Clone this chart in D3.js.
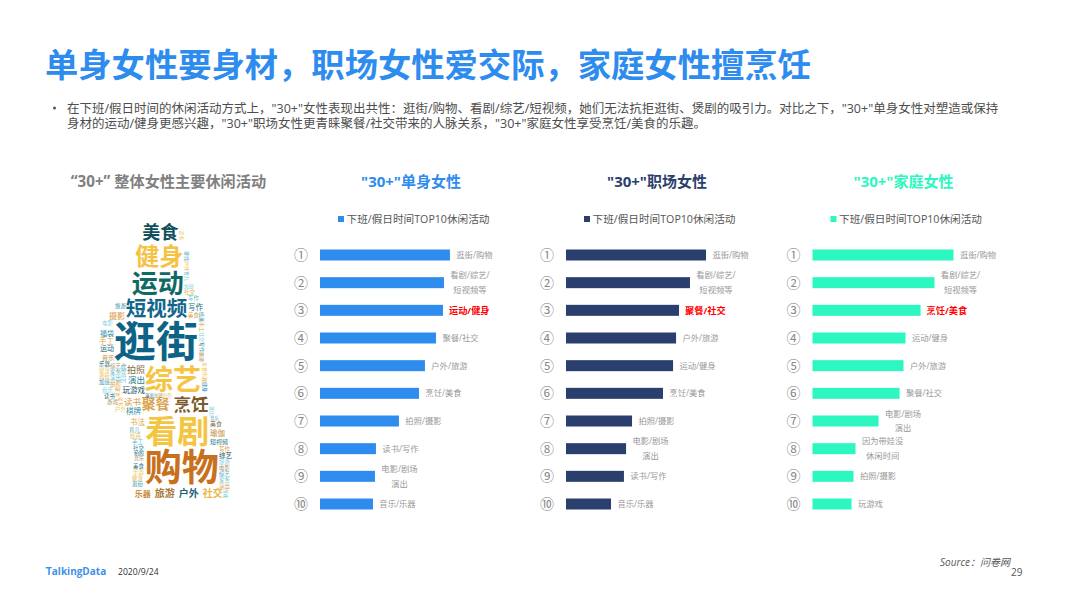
<!DOCTYPE html>
<html>
<head>
<meta charset="utf-8">
<script src="https://cdn.jsdelivr.net/npm/d3@7"></script>
<style>
  body { margin: 0; background: #fff; }
  svg { display: block; }
  text { font-family: "Open Sans", "Noto Sans CJK SC", sans-serif; }
</style>
</head>
<body>
<svg id="chart" width="1066" height="599"></svg>
<script>
const titleText = '单身女性要身材，职场女性爱交际，家庭女性擅烹饪';
const bulletLines = [
  '在下班/假日时间的休闲活动方式上，"30+"女性表现出共性：逛街/购物、看剧/综艺/短视频，她们无法抗拒逛街、煲剧的吸引力。对比之下，"30+"单身女性对塑造或保持',
  '身材的运动/健身更感兴趣，"30+"职场女性更青睐聚餐/社交带来的人脉关系，"30+"家庭女性享受烹饪/美食的乐趣。'
];

const ranks = ['①', '②', '③', '④', '⑤', '⑥', '⑦', '⑧', '⑨', '⑩'];
const legendText = '下班/假日时间TOP10休闲活动';

const singleLabels = ['逛街/购物', '看剧/综艺/\n短视频等', '运动/健身', '聚餐/社交', '户外/旅游', '烹饪/美食', '拍照/摄影', '读书/写作', '电影/剧场\n演出', '音乐/乐器'];
const singleValues = [91.5, 87.3, 86.6, 81.7, 73.9, 69.7, 55.6, 39.4, 38.7, 37.3];

const workLabels = ['逛街/购物', '看剧/综艺/\n短视频等', '聚餐/社交', '户外/旅游', '运动/健身', '烹饪/美食', '拍照/摄影', '电影/剧场\n演出', '读书/写作', '音乐/乐器'];
const workValues = [98.6, 87.3, 79.6, 77.5, 75.4, 68.3, 46.5, 42.3, 40.8, 31.7];

const familyLabels = ['逛街/购物', '看剧/综艺/\n短视频等', '烹饪/美食', '运动/健身', '户外/旅游', '聚餐/社交', '电影/剧场\n演出', '因为带娃没\n休闲时间', '拍照/摄影', '玩游戏'];
const familyValues = [99.3, 85.9, 76.1, 65.5, 64.1, 61.3, 46.5, 30.3, 28.9, 27.5];

// word cloud: big words top to bottom, one list per row of the figure
const cloudRows = [['美食'], ['健身'], ['运动'], ['短视频'], ['逛街'], ['综艺'], ['聚餐', '烹饪'], ['看剧'], ['购物'], ['乐器', '旅游', '户外', '社交']];
const cloudWeights = [18, 24, 26, 20.5, 42, 28, 14, 17.5, 32, 37, 8, 10, 10, 10];
const leftWords = ['摄影', '福袋', '手工', '运动', '音乐', '拍照', '演出', '玩游戏', '读书', '棋牌', '书法', '剧场', '看剧'];
const leftWeights = [8, 7, 7.5, 7, 6, 9, 8.5, 7.5, 8.5, 7.5, 7.5, 9, 7.5];
const rightWords = ['写作', '瑜伽', '美食', '短视频', '综艺', '绘画', '棋牌', '音乐', '电影', '加班', '购物'];
const rightWeights = [7.5, 7.5, 6, 6, 6.5, 7, 8, 8.5, 10, 7, 7];
const smallWords = ['社交', '写作', '旅游', '美食', '电影', '乐器', '综艺', '健身', '家务', '逛街', '演出', '加班', '拍照', '音乐', '读书', '游戏', '户外', '育儿', '绘画', '手工'];

const svg = d3.select('#chart');
const blue = '#2e8cef', navy = '#2b3f6e', mint = '#2df7c0';

svg.append('text').attr('x', 45).attr('y', 77)
  .attr('font-size', 33.3).attr('font-weight', 700).attr('fill', blue).text(titleText);

svg.append('circle').attr('cx', 54.5).attr('cy', 108).attr('r', 1.5).attr('fill', '#555');
svg.selectAll('.bullet').data(bulletLines).join('text')
  .attr('class', 'bullet')
  .attr('x', 67).attr('y', (d, i) => 113 + i * 15)
  .attr('font-size', 12.5).attr('fill', '#4d4d4d').text(d => d);

// bar panels
const rowY = d3.scalePoint().domain(ranks).range([255, 504]);
const barW = d3.scaleLinear().domain([0, 100]).range([0, 142]);

const charW = 8.25, slashW = 3;
const lineWidth = s => Array.from(s).reduce((w, c) => w + (c === '/' ? slashW : charW), 0);

function drawPanel({ title, color, labels, values, x0 }) {
  const g = svg.append('g').attr('class', 'panel');

  g.append('text').attr('x', x0 + 91).attr('y', 187).attr('text-anchor', 'middle')
    .attr('font-size', 15).attr('font-weight', 700).attr('fill', color).text(title);

  g.append('rect').attr('x', x0 + 18).attr('y', 216).attr('width', 6).attr('height', 6).attr('fill', color);
  g.append('text').attr('x', x0 + 26.5).attr('y', 223)
    .attr('font-size', 10.65).attr('fill', '#555').text(legendText);

  const rows = g.selectAll('.row').data(ranks.map((r, i) => ({ r, label: labels[i], value: values[i], i })))
    .join('g').attr('class', 'row').attr('transform', d => `translate(0,${rowY(d.r)})`);

  rows.append('text').attr('x', x0 - 19).attr('y', 0).attr('dy', '0.36em').attr('text-anchor', 'middle')
    .attr('font-size', 14).attr('fill', '#888').text(d => d.r);

  rows.append('rect').attr('x', x0).attr('y', -5.5)
    .attr('width', d => barW(d.value)).attr('height', 11).attr('fill', color);

  rows.each(function (d) {
    const lines = d.label.split('\n');
    const w = d3.max(lines, lineWidth) * (d.i === 2 ? 1.1 : 1);
    const cx = x0 + barW(d.value) + 6.5 + w / 2;
    d3.select(this).selectAll('.lab').data(lines).join('text')
      .attr('class', 'lab')
      .attr('x', cx)
      .attr('y', (l, i) => (i - (lines.length - 1) / 2) * 14.6)
      .attr('dy', '0.36em').attr('text-anchor', 'middle')
      .attr('font-size', d.i === 2 ? 9.2 : 8.3)
      .attr('font-weight', d.i === 2 ? 700 : 400)
      .attr('fill', d.i === 2 ? '#ff0000' : '#999')
      .text(l => l);
  });
}

drawPanel({ title: '"30+"单身女性', color: blue, labels: singleLabels, values: singleValues, x0: 320 });
drawPanel({ title: '"30+"职场女性', color: navy, labels: workLabels, values: workValues, x0: 566 });
drawPanel({ title: '"30+"家庭女性', color: mint, labels: familyLabels, values: familyValues, x0: 812.5 });

svg.append('text').attr('x', 168.5).attr('y', 186.5).attr('text-anchor', 'middle')
  .attr('font-size', 15.2).attr('font-weight', 700).attr('fill', '#808080').text('“30+” 整体女性主要休闲活动');

// word cloud, silhouette of a woman holding a child
const outline = [[148, 226], [160, 220], [176, 221], [186, 232], [191, 262], [195, 290], [201, 297], [208, 320], [208, 388],
  [214, 405], [223, 422], [233, 455], [233, 488], [226, 501], [132, 501], [132, 470], [134, 455], [126, 422], [107, 405],
  [99, 388], [97, 343], [102, 320], [119, 297], [132, 290], [130, 262], [138, 238]];

const spine = d3.scaleLinear().domain([220, 340, 378, 430, 470, 500]).range([161, 155, 173, 177, 182, 178]);
const flatWords = cloudRows.flat();
const sizeOf = new Map(flatWords.map((w, i) => [w, cloudWeights[i]]));
const cloudColor = d3.scaleOrdinal(flatWords, ['#124f5c', '#f5c242', '#0f6a66', '#11668a', '#0d6385', '#f5c542', '#d9a24b', '#7c5a2a', '#f4c542', '#c8701c', '#c98a3a', '#a87a3a', '#1a5f7a', '#e9b84a']);
const cloud = svg.append('g').attr('class', 'cloud');
const occupied = [];
const free = (x, y, w, h) => !occupied.some(b => x < b.x + b.w && x + w > b.x && y < b.y + b.h && y + h > b.y);
const inside = (x, y, w, h) => [[x, y], [x + w, y], [x, y + h], [x + w, y + h], [x + w / 2, y + h / 2]].every(p => d3.polygonContains(outline, p));

function putWord(word, cx, cy, size, fill, weight, vertical) {
  const t = cloud.append('text').attr('dy', '0.36em').attr('text-anchor', 'middle')
    .attr('font-size', size).attr('font-weight', weight).attr('fill', fill).text(word);
  if (vertical) t.attr('transform', `translate(${cx},${cy}) rotate(90)`);
  else t.attr('x', cx).attr('y', cy);
  const len = size * word.length, thick = size * 0.96;
  occupied.push(vertical
    ? { x: cx - thick / 2, y: cy - len / 2, w: thick, h: len }
    : { x: cx - len / 2, y: cy - thick / 2, w: len, h: thick });
}

let yCursor = 224;
cloudRows.forEach(row => {
  const h = d3.max(row, w => sizeOf.get(w));
  const cy = yCursor + h / 2;
  const total = d3.sum(row, w => sizeOf.get(w) * w.length) + (row.length - 1) * 4;
  let x = spine(cy) - total / 2;
  row.forEach(w => {
    const ww = sizeOf.get(w) * w.length;
    putWord(w, x + ww / 2, cy, sizeOf.get(w), cloudColor(w), 700);
    x += ww + 4;
  });
  yCursor += h + 2.2;
});

// mid-size words hug the big ones, left side and right side going down
const midColors = ['#d99a3d', '#2f90a8', '#e0a63f', '#0f6a82', '#c98a3a', '#7c6a3a', '#2a7f8f', '#174f63'];
const leftY = d3.scalePoint().domain(d3.range(leftWords.length)).range([312, 440]);
leftWords.forEach((word, i) => {
  const size = leftWeights[i], w = size * word.length;
  for (let y = leftY(i); y < 490; y += 1) {
    let placed = false;
    for (let x = 200 - w; x > 96; x -= 1) {
      if (inside(x, y, w, size) && free(x, y, w, size)) {
        putWord(word, x + w / 2, y + size / 2, size, midColors[i % midColors.length], 400);
        placed = true;
        break;
      }
    }
    if (placed) break;
  }
});
const rightY = d3.scalePoint().domain(d3.range(rightWords.length)).range([300, 484]);
rightWords.forEach((word, i) => {
  const size = rightWeights[i], w = size * word.length;
  for (let y = rightY(i); y < 495; y += 1) {
    let placed = false;
    for (let x = 150; x < 234 - w; x += 1) {
      if (inside(x, y, w, size) && free(x, y, w, size)) {
        putWord(word, x + w / 2, y + size / 2, size, midColors[(i + 3) % midColors.length], 400);
        placed = true;
        break;
      }
    }
    if (placed) break;
  }
});

// whatever room is left gets the small words, upright first and then on their side
const smallColors = ['#e8b53c', '#56bccb', '#2f90a8', '#e09a3a', '#7fd0dc', '#0f6a82', '#a8925c', '#efc868', '#3fa7ba'];
let n = 0;
[[5.4, false], [5, false], [5, true], [4.4, false], [4.4, true]].forEach(([size, vertical]) => {
  for (let y = 220; y < 500; y += 1) {
    for (let x = 96; x < 234; x += 1) {
      const word = smallWords[n % smallWords.length];
      const len = size * word.length;
      const w = vertical ? size : len, h = vertical ? len : size;
      if (inside(x, y, w, h) && free(x, y, w, h)) {
        putWord(word, x + w / 2, y + h / 2, size, smallColors[n % smallColors.length], 400, vertical);
        n++;
      }
    }
  }
});

// footer
svg.append('rect').attr('x', 45.5).attr('y', 567).attr('width', 3).attr('height', 1.5).attr('fill', mint);
svg.append('text').attr('x', 46).attr('y', 575).attr('font-size', 10).attr('font-weight', 700).attr('fill', '#3f8fe8').text('TalkingData');
svg.append('text').attr('x', 118).attr('y', 575).attr('font-size', 8.6).attr('fill', '#333').text('2020/9/24');
svg.append('text').attr('x', 940).attr('y', 566).attr('font-size', 10).attr('font-style', 'italic').attr('fill', '#555').text('Source：问卷网');
svg.append('text').attr('x', 1011).attr('y', 576).attr('font-size', 10).attr('fill', '#555').text('29');
</script>
</body>
</html>
